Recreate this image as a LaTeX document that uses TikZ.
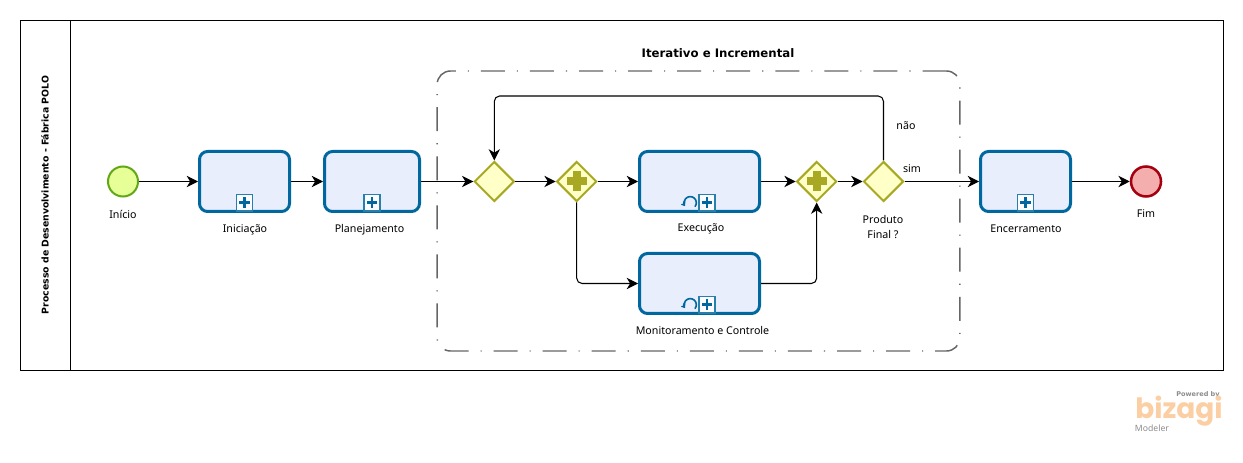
\documentclass[tikz,border=0pt]{standalone}
\usepackage{fontspec}
\setmainfont{Noto Sans}
\newfontfamily\titlefont{DejaVu Sans}
\newfontfamily\logofont{Poppins}
\usetikzlibrary{arrows.meta,positioning,shapes.geometric}
\definecolor{taskline}{HTML}{00689F}
\definecolor{taskfill}{HTML}{E9EEFD}
\definecolor{gateline}{HTML}{A8A823}
\definecolor{gatefill}{HTML}{FFFFC8}
\definecolor{startline}{HTML}{62A716}
\definecolor{startfill}{HTML}{E6FF97}
\definecolor{stopline}{HTML}{A5000F}
\definecolor{stopfill}{HTML}{F4AEAE}
\definecolor{logoorange}{HTML}{FBCFA3}
\tikzset{
	flow/.style = {->, >={Stealth[length=8.5pt,width=8.5pt,inset=2.6pt]}, line width=0.8pt},
	lane/.style = {rectangle, draw=black, line width=0.75pt, inner sep=0pt},
	lbl/.style = {align=center, inner sep=0pt, font=\fontsize{8}{11.5}\selectfont},
	task/.style = {rectangle, rounded corners=6pt, draw=taskline, fill=taskfill,
		line width=2.25pt, inner sep=0pt, minimum height=45pt, minimum width=#1},
	submark/.style = {rectangle, draw=taskline!85!white, fill=white!85!taskfill, line width=1.3pt,
		inner sep=0pt, minimum width=12pt, minimum height=12.5pt,
		path picture={
			\fill[taskline] (path picture bounding box.center) ++(-4pt,-1pt) rectangle ++(8pt,2pt);
			\fill[taskline] (path picture bounding box.center) ++(-1pt,-4pt) rectangle ++(2pt,8pt);
		}},
	loopmark/.style = {circle, inner sep=0pt, minimum size=14pt,
		path picture={
			\draw[taskline, line width=1.2pt, -{Stealth[length=3.5pt,width=5pt]}]
				(path picture bounding box.center) ++(-40:4.6pt) arc (-40:215:4.6pt);
		}},
	gate/.style = {diamond, aspect=1, draw=gateline, fill=gatefill, line width=1.5pt,
		inner sep=0pt, minimum size=30pt},
	pargate/.style = {gate,
		path picture={
			\fill[gateline] (path picture bounding box.center) ++(-7.5pt,-3pt) rectangle ++(15pt,6pt);
			\fill[gateline] (path picture bounding box.center) ++(-3pt,-7.5pt) rectangle ++(6pt,15pt);
		}},
	startev/.style = {circle, draw=startline, fill=startfill, line width=1.5pt,
		inner sep=0pt, minimum size=22.5pt},
	endev/.style = {circle, draw=stopline, fill=stopfill, line width=1.9pt,
		inner sep=0pt, minimum size=22.5pt}
}
\begin{document}
\begin{tikzpicture}[x=0.75pt,y=-0.75pt]
\useasboundingbox (0,0) rectangle (1243,463);
% pool
\node [lane, minimum width=902.25pt, minimum height=262.5pt] (pool) at (622,195.5) {};
\node [lane, minimum width=37.5pt, minimum height=262.5pt] (head) at (45.5,195.5) {};
\node [lbl, rotate=90, font=\titlefont\fontsize{7}{10}\selectfont\bfseries] (title) at (45,195) {Processo de Desenvolvimento - Fábrica POLO};
% group
\node [rectangle, rounded corners=10pt, draw=black!60, line width=1.1pt,
	dash pattern=on 18pt off 9pt on 0.8pt off 9pt, inner sep=0pt,
	minimum width=392pt, minimum height=210pt] (group) at (698.5,211) {};
\node [lbl, font=\titlefont\fontsize{8.8}{11}\selectfont\bfseries] (grouptitle) at (718,53) {Iterativo e Incremental};
% events, tasks, gateways
\node [startev] (start) at (123,181.5) {};
\node [task=67.5pt] (init) at (244.5,181.5) {};
\node [task=71.25pt] (plan) at (372,181.5) {};
\node [gate] (gw_loop) at (494.3,181.5) {};
\node [pargate] (gw_split) at (576.7,181.5) {};
\node [task=90pt] (exec) at (699.5,181.5) {};
\node [task=90pt] (moni) at (699.5,283.5) {};
\node [pargate] (gw_join) at (816.7,181.5) {};
\node [gate] (gw_end) at (883.5,181.5) {};
\node [task=67.5pt] (clos) at (1025.5,181.5) {};
\node [endev] (stop) at (1146,181.5) {};
% markers
\node [submark, above=0.8pt of init.south] (init_sub) {};
\node [submark, above=0.8pt of plan.south] (plan_sub) {};
\node [submark, above=0.8pt of clos.south] (clos_sub) {};
\node [submark, above=0.8pt of exec.south, xshift=5.5pt] (exec_sub) {};
\node [submark, above=0.8pt of moni.south, xshift=5.5pt] (moni_sub) {};
\node [loopmark, left=-1.4pt of exec_sub] (exec_loop) {};
\node [loopmark, left=-1.4pt of moni_sub] (moni_loop) {};
% labels
\node [lbl] (l_start) at (123,214) {Início};
\node [lbl] (l_init) at (245,229.5) {Iniciação};
\node [lbl] (l_plan) at (369.5,229.5) {Planejamento};
\node [lbl] (l_exec) at (701,228.5) {Execução};
\node [lbl] (l_moni) at (702.5,331) {Monitoramento e Controle};
\node [lbl] (l_end) at (883,227) {Produto\\Final ?};
\node [lbl] (l_clos) at (1026,229) {Encerramento};
\node [lbl] (l_stop) at (1146,214) {Fim};
\node [lbl] (l_nao) at (906,125.5) {não};
\node [lbl] (l_sim) at (912,169) {sim};
% connectors
\coordinate (loop_top) at (494.3,96);
\coordinate (moni_turn) at (576.7,283.5);
\coordinate (join_turn) at (816.7,283.5);
\draw [flow] (start) -- (init);
\draw [flow] (init) -- (plan);
\draw [flow] (plan) -- (gw_loop);
\draw [flow] (gw_loop) -- (gw_split);
\draw [flow] (gw_split) -- (exec);
\draw [flow] (exec) -- (gw_join);
\draw [flow] (gw_join) -- (gw_end);
\draw [flow] (gw_end) -- (clos);
\draw [flow] (clos) -- (stop);
\draw [flow, rounded corners=4pt] (gw_split.south) -- (moni_turn) -- (moni.west);
\draw [flow, rounded corners=4pt] (moni.east) -- (join_turn) -- (gw_join.south);
\draw [flow, rounded corners=4pt] (gw_end.north) |- (loop_top) -- (gw_loop.north);
% logo
\node [inner sep=0pt, text=black!45, font=\titlefont\fontsize{4.9}{6}\selectfont\bfseries] (powered) at (1198,394.5) {Powered by};
\node [inner sep=0pt, text=logoorange, font=\logofont\fontsize{21}{22}\selectfont\bfseries] (logo) at (1179,411) {bizagi};
\node [inner sep=0pt, text=black!45, font=\fontsize{6.5}{7}\selectfont] (modeler) at (1152,428) {Modeler};
\end{tikzpicture}
\end{document}
